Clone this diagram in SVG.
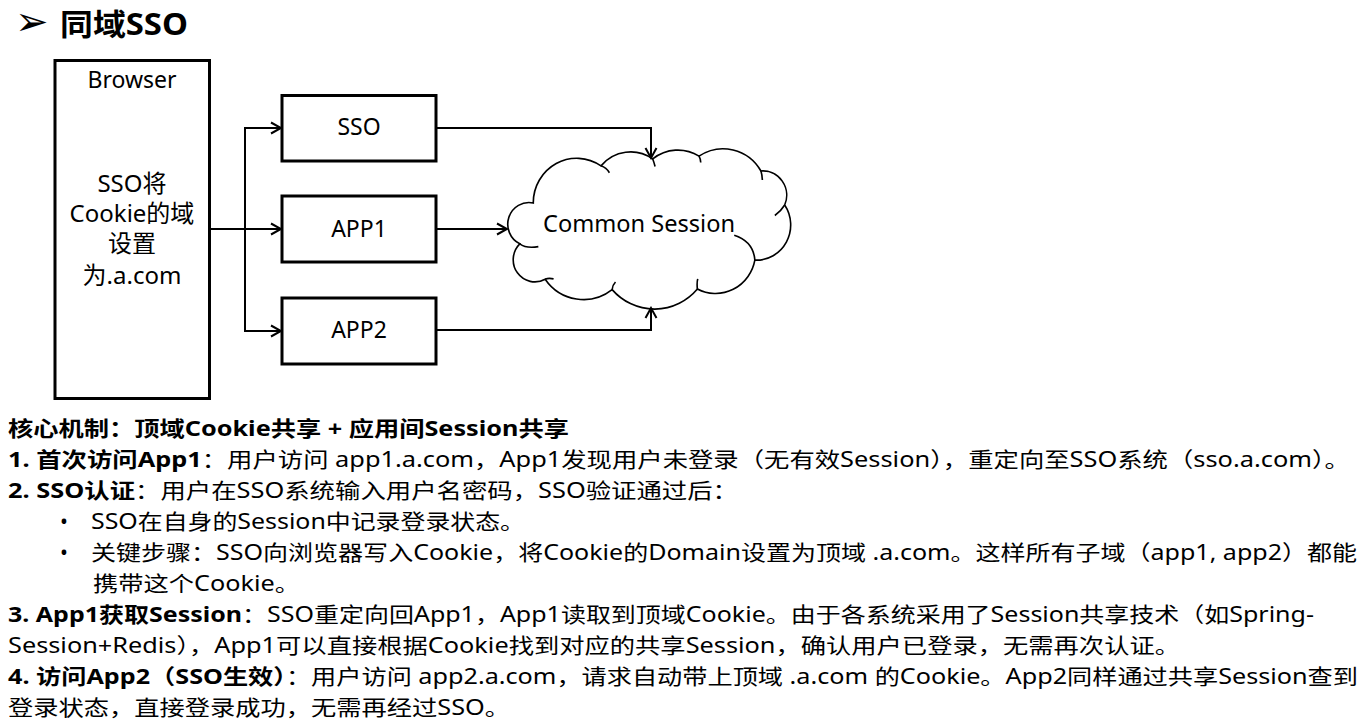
<svg xmlns="http://www.w3.org/2000/svg" width="1370" height="721" viewBox="0 0 1370 721">
<style>
.box{fill:#fff;stroke:#000;stroke-width:3}
.conn{fill:none;stroke:#000;stroke-width:2}
.cloud{fill:#fff;stroke:#000;stroke-width:1.6}
.tail{fill:none;stroke:#000;stroke-width:1.6}
.lbl{font-family:"Noto Sans","Noto Sans CJK SC",sans-serif;font-size:23px;fill:#000;text-anchor:middle}
.blbl{font-family:"Noto Sans","Noto Sans CJK SC",sans-serif;font-size:24px;fill:#000;text-anchor:middle}
.body{font-family:"Noto Sans","Noto Sans CJK SC",sans-serif;font-size:21px;fill:#000}
.b{font-weight:bold}
</style>
<defs>
<marker id="arr" markerUnits="userSpaceOnUse" viewBox="0 0 14 14" markerWidth="14" markerHeight="14" refX="12" refY="7" orient="auto">
<path d="M2,1.5 L12,7 L2,12.5" fill="none" stroke="#000" stroke-width="2"/>
</marker>
</defs>
<rect width="1370" height="721" fill="#fff"/>
<g id="title">
<text x="15" y="35" font-family="DejaVu Sans, sans-serif" font-size="40">➢</text>
<text x="60" y="35" font-family="Noto Sans, Noto Sans CJK SC, sans-serif" font-size="30" font-weight="bold" textLength="128" lengthAdjust="spacingAndGlyphs">同域SSO</text>
</g>
<g id="browser">
<rect class="box" x="55" y="60.5" width="154.5" height="338"/>
<text class="lbl" x="132" y="88">Browser</text>
<text class="blbl" x="132" y="192">SSO将</text>
<text class="blbl" x="132" y="222">Cookie的域</text>
<text class="blbl" x="132" y="252">设置</text>
<text class="blbl" x="132" y="284">为.a.com</text>
</g>
<g id="sso">
<rect class="box" x="282" y="95.5" width="154" height="65.5"/>
<text class="lbl" x="359" y="135">SSO</text>
</g>
<g id="app1">
<rect class="box" x="282" y="196" width="154" height="66"/>
<text class="lbl" x="359" y="237">APP1</text>
</g>
<g id="app2">
<rect class="box" x="282" y="298" width="154" height="66"/>
<text class="lbl" x="359" y="338">APP2</text>
</g>
<g id="common-session">
<g transform="translate(650,230) scale(1.015,1.04) translate(-650,-230)">
<path class="cloud" d="M521.7,243.3 A20.9,20.9 0 0 1 535,204 A42.8,42.8 0 0 1 601.7,168.3 A38.6,38.6 0 0 1 652.7,161.7 A40.3,40.3 0 0 1 698.3,159 A43.3,43.3 0 0 1 759.3,173.3 A23.4,23.4 0 0 1 782.7,206 A33.9,33.9 0 0 1 753.3,259 A39.3,39.3 0 0 1 696.7,286.7 A55.9,55.9 0 0 1 612.7,287.3 A46.3,46.3 0 0 1 546.7,277.3 A21.3,21.3 0 0 1 521.7,243.3 Z"/>
<path class="tail" d="M521.7,243.3 Q528,248 540,246 M601.7,168.3 Q607,170 610,175 M652.7,161.7 Q654,165 655,169 M698.3,159 Q700,162 700,165 M759.3,173.3 Q760.5,177 760.7,182 M782.7,206 Q779,212 773,216 M753.3,259 Q752,241 733,235 M696.7,286.7 Q696,281 697,277 M612.7,287.3 Q613,283 616,280 M546.7,277.3 Q550,276 555,277"/>
</g>
<text class="lbl" x="543" y="232" style="text-anchor:start;font-size:23.5px" textLength="192" lengthAdjust="spacingAndGlyphs">Common Session</text>
</g>
<g id="connectors">
<path class="conn" d="M209,229 H281" marker-end="url(#arr)"/>
<path class="conn" d="M245,229 V128 H281" marker-end="url(#arr)"/>
<path class="conn" d="M245,229 V331 H281" marker-end="url(#arr)"/>
<path class="conn" d="M436,128 H651 V158" marker-end="url(#arr)"/>
<path class="conn" d="M436,229 H507" marker-end="url(#arr)"/>
<path class="conn" d="M436,330 H651 V308" marker-end="url(#arr)"/>
</g>
<g id="notes">
<text class="body b" x="8" y="436" textLength="561" lengthAdjust="spacingAndGlyphs">核心机制：顶域Cookie共享 + 应用间Session共享</text>
<text class="body" x="8" y="467" textLength="1342" lengthAdjust="spacingAndGlyphs"><tspan class="b">1. 首次访问App1</tspan>：用户访问 app1.a.com，App1发现用户未登录（无有效Session），重定向至SSO系统（sso.a.com）。</text>
<text class="body" x="8" y="498" textLength="730" lengthAdjust="spacingAndGlyphs"><tspan class="b">2. SSO认证</tspan>：用户在SSO系统输入用户名密码，SSO验证通过后：</text>
<text class="body" x="60" y="529">•</text>
<text class="body" x="91" y="529" textLength="434" lengthAdjust="spacingAndGlyphs">SSO在自身的Session中记录登录状态。</text>
<text class="body" x="60" y="560">•</text>
<text class="body" x="91" y="560" textLength="1266" lengthAdjust="spacingAndGlyphs">关键步骤：SSO向浏览器写入Cookie，将Cookie的Domain设置为顶域 .a.com。这样所有子域（app1, app2）都能</text>
<text class="body" x="93" y="591" textLength="207" lengthAdjust="spacingAndGlyphs">携带这个Cookie。</text>
<text class="body" x="8" y="622" textLength="1306" lengthAdjust="spacingAndGlyphs"><tspan class="b">3. App1获取Session</tspan>：SSO重定向回App1，App1读取到顶域Cookie。由于各系统采用了Session共享技术（如Spring-</text>
<text class="body" x="8" y="653" textLength="1172" lengthAdjust="spacingAndGlyphs">Session+Redis），App1可以直接根据Cookie找到对应的共享Session，确认用户已登录，无需再次认证。</text>
<text class="body" x="8" y="684" textLength="1350" lengthAdjust="spacingAndGlyphs"><tspan class="b">4. 访问App2（SSO生效）</tspan>：用户访问 app2.a.com，请求自动带上顶域 .a.com 的Cookie。App2同样通过共享Session查到</text>
<text class="body" x="8" y="715" textLength="502" lengthAdjust="spacingAndGlyphs">登录状态，直接登录成功，无需再经过SSO。</text>
</g>
</svg>
